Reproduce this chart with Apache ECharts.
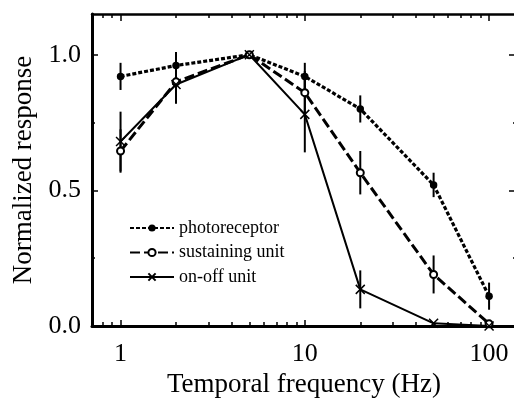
<!DOCTYPE html>
<html>
<head>
<meta charset="utf-8">
<script src="https://cdn.jsdelivr.net/npm/echarts@6/dist/echarts.min.js"></script>
<style>
  html, body { margin: 0; padding: 0; background: #fff; }
  #chart { width: 514px; height: 398px; }
</style>
</head>
<body>
<div id="chart"></div>
<script>
// Temporal frequency tuning — three cell types, normalized response, log x axis.
const freqs = [1, 2, 5, 10, 20, 50, 100];

const photoreceptor = [0.92, 0.96, 1.0, 0.92, 0.80, 0.52, 0.11];
const photoreceptorErr = [0.05, 0.05, 0, 0.05, 0.05, 0.045, 0.05];

const sustaining = [0.645, 0.90, 1.0, 0.86, 0.565, 0.19, 0.008];
const sustainingErr = [0.08, 0.08, 0, 0.08, 0.08, 0.07, 0];

const onOff = [0.68, 0.89, 1.0, 0.78, 0.135, 0.01, 0.0];
const onOffErr = [0.11, 0.07, 0, 0.14, 0.07, 0, 0];

const xMajorTicks = [1, 10, 100];
const xMinorTicks = [0.8, 0.9, 2, 3, 4, 5, 6, 7, 8, 9, 20, 30, 40, 50, 60, 70, 80, 90];
const yMajorTicks = [0, 0.5, 1.0];
const yMinorTicks = [0.25, 0.75];

const X_MIN = 0.7, X_MAX = 140;
const Y_MAX = 1.15;

const FONT = "Liberation Serif";
const lg = Math.log10;

const pairs = (ys) => freqs.map((f, i) => [f, ys[i]]);
const bars = (ys, es) => freqs.map((f, i) => [f, ys[i] - es[i], ys[i] + es[i]]).filter((d) => d[2] > d[1]);

// helper x axes live in log10 space so ticks can sit at 2..9 of each decade
function tickAxis(position, values, len, withLabels, line) {
  return {
    type: "value",
    position,
    min: lg(X_MIN),
    max: lg(X_MAX),
    axisLine: { show: !!line, onZero: false, lineStyle: { color: "#000", width: line || 1 } },
    axisTick: { show: true, inside: true, length: len, customValues: values.map(lg),
      lineStyle: { color: "#000", width: 1.5 } },
    axisLabel: withLabels ? {
      customValues: values.map(lg), margin: 15, color: "#000", fontFamily: FONT, fontSize: 26,
      formatter: (v) => String(Math.round(Math.pow(10, v))),
    } : { show: false },
    splitLine: { show: false },
  };
}

function yTickAxis(position, values, len, withLabels, line) {
  return {
    type: "value",
    position,
    min: 0,
    max: Y_MAX,
    axisLine: { show: !!line, onZero: false, lineStyle: { color: "#000", width: line || 1 } },
    axisTick: { show: true, inside: true, length: len, customValues: values,
      lineStyle: { color: "#000", width: 1.5 } },
    axisLabel: withLabels ? {
      customValues: values, margin: 11, color: "#000", fontFamily: FONT, fontSize: 26,
      formatter: (v) => v.toFixed(1),
    } : { show: false },
    splitLine: { show: false },
  };
}

function errorBars(name, data) {
  return {
    type: "custom",
    name: name + " err",
    xAxisIndex: 0,
    yAxisIndex: 0,
    z: 1,
    clip: false,
    data,
    encode: { x: 0, y: [1, 2] },
    renderItem(params, api) {
      const a = api.coord([api.value(0), api.value(1)]);
      const b = api.coord([api.value(0), api.value(2)]);
      return { type: "line", shape: { x1: a[0], y1: a[1], x2: b[0], y2: b[1] },
        style: { stroke: "#000", lineWidth: 2 } };
    },
  };
}

const chart = echarts.init(document.getElementById("chart"));
chart.setOption({
  animation: false,
  backgroundColor: "#fff",
  grid: { left: 92, right: -2, top: 14, bottom: 72, containLabel: false, outerBoundsMode: "none" },
  xAxis: [
    { type: "log", min: X_MIN, max: X_MAX, show: false },
    Object.assign(tickAxis("bottom", xMajorTicks, 6, true, 3), {
      name: "Temporal frequency (Hz)", nameLocation: "middle", nameGap: 45,
      nameTextStyle: { color: "#000", fontFamily: FONT, fontSize: 27 },
    }),
    tickAxis("bottom", xMinorTicks, 4, false, 0),
    tickAxis("top", xMajorTicks, 7, false, 2.5),
    tickAxis("top", xMinorTicks, 4, false, 0),
  ],
  yAxis: [
    Object.assign(yTickAxis("left", yMajorTicks, 6, true, 3), {
      name: "Normalized response", nameLocation: "middle", nameGap: 55,
      nameTextStyle: { color: "#000", fontFamily: FONT, fontSize: 27 },
    }),
    yTickAxis("left", yMinorTicks, 3, false, 0),
    yTickAxis("right", yMajorTicks, 7, false, 0),
    yTickAxis("right", yMinorTicks, 3, false, 0),
  ],
  legend: {
    data: ["photoreceptor", "sustaining unit", "on-off unit"],
    orient: "vertical",
    left: 129,
    top: 219,
    itemWidth: 44,
    itemHeight: 9,
    itemGap: 6.5,
    padding: 0,
    textStyle: { color: "#000", fontFamily: FONT, fontSize: 18 },
  },
  series: [
    errorBars("photoreceptor", bars(photoreceptor, photoreceptorErr)),
    errorBars("sustaining unit", bars(sustaining, sustainingErr)),
    errorBars("on-off unit", bars(onOff, onOffErr)),
    {
      type: "line", name: "photoreceptor", xAxisIndex: 0, yAxisIndex: 0, z: 3, clip: false,
      data: pairs(photoreceptor), color: "#000",
      symbol: "circle", symbolSize: 7.5,
      lineStyle: { color: "#000", width: 3.2, type: [4, 2] },
      itemStyle: { color: "#000" },
    },
    {
      type: "line", name: "sustaining unit", xAxisIndex: 0, yAxisIndex: 0, z: 3, clip: false,
      data: pairs(sustaining), color: "#000",
      symbol: "emptyCircle", symbolSize: 7,
      lineStyle: { color: "#000", width: 3, type: [10, 4] },
      itemStyle: { color: "#000", borderColor: "#000", borderWidth: 1 },
    },
    {
      type: "line", name: "on-off unit", xAxisIndex: 0, yAxisIndex: 0, z: 3, clip: false,
      data: pairs(onOff), color: "#000",
      symbol: "path://M0 0L10 10M10 0L0 10", symbolSize: 9,
      lineStyle: { color: "#000", width: 2 },
      itemStyle: { color: "#000", borderColor: "#000", borderWidth: 1.5 },
    },
  ],
});
</script>
</body>
</html>
